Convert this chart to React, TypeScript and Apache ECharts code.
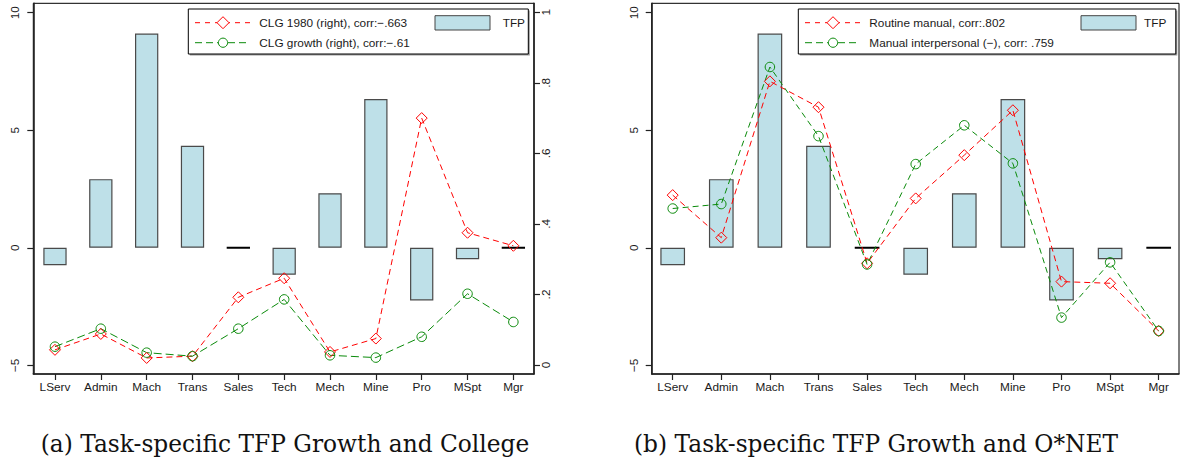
import React, { useEffect, useRef } from "react";
import * as echarts from "echarts";

const categories = ["LServ", "Admin", "Mach", "Trans", "Sales", "Tech", "Mech", "Mine", "Pro", "MSpt", "Mgr"];
const tfp = [-0.74, 2.92, 9.11, 4.34, 0, -1.15, 2.32, 6.33, -2.24, -0.49, 0];
const clg1980 = [0.043, 0.088, 0.02, 0.025, 0.192, 0.246, 0.037, 0.075, 0.7, 0.375, 0.338];
const clgGrowth = [0.052, 0.103, 0.035, 0.025, 0.103, 0.186, 0.0275, 0.021, 0.08, 0.202, 0.122];
const routineManual = [2.24, 0.43, 7.08, 5.98, -0.66, 2.1, 3.94, 5.85, -1.44, -1.51, -3.54];
const manualInterpersonal = [1.67, 1.86, 7.69, 4.75, -0.71, 3.56, 5.21, 3.59, -2.97, -0.62, -3.54];
const leftTicks = [-5, 0, 5, 10];
const rightTicks = [0, 0.2, 0.4, 0.6, 0.8, 1];

const SANS = "Liberation Sans";
const TXT = "#1a1a1a";
const AX = "#222";
const BAR = "#BEE0E8";
const RED = "#ff0000";
const GREEN = "#0a8a0a";
const FS = 11.8;

const idx = categories.map((_, i) => i);
const pairs = (arr: number[]) => arr.map((v, i) => [i, v]);
const barData = (arr: number[]) =>
  arr.map((v, i) => (v === 0 ? { value: [i, v], itemStyle: { borderColor: "#000", borderWidth: 1.8 } } : [i, v]));

function xAxisFor(gridIndex: number, min: number, max: number) {
  return {
    type: "value",
    gridIndex,
    min,
    max,
    axisLine: { show: true, onZero: false, lineStyle: { color: AX, width: 1.6 } },
    axisTick: { show: true, customValues: idx, length: 6, lineStyle: { color: AX, width: 1.2 } },
    axisLabel: {
      customValues: idx,
      formatter: (v: number) => categories[Math.round(v)] ?? "",
      fontSize: FS,
      fontFamily: SANS,
      color: TXT,
      margin: 7,
    },
    splitLine: { show: false },
  };
}

function leftY(gridIndex: number) {
  return {
    type: "value",
    gridIndex,
    position: "left",
    min: -5.37,
    max: 10.4,
    axisLine: { show: true, onZero: false, lineStyle: { color: AX, width: 1.6 } },
    axisTick: { show: true, customValues: leftTicks, length: 6, lineStyle: { color: AX, width: 1.2 } },
    axisLabel: {
      customValues: leftTicks,
      rotate: 90,
      formatter: (v: number) => (v < 0 ? "\u2212" + Math.abs(v) : String(v)),
      fontSize: FS,
      fontFamily: SANS,
      color: TXT,
      margin: 12,
    },
    splitLine: { show: false },
  };
}

function legend(
  x: number,
  w: number,
  lineX: number,
  textX: number,
  rectX: number,
  tfpX: number,
  label1: string,
  label2: string
) {
  const y = 9;
  const h = 45;
  const r1 = 22.7;
  const r2 = 42.7;
  const mx = lineX + 28;
  return [
    { type: "rect", shape: { x: x + 1.5, y: y + 1.5, width: w, height: h }, style: { fill: "#9a9a9a" }, silent: true },
    { type: "rect", shape: { x, y, width: w, height: h }, style: { fill: "#fff", stroke: "#000", lineWidth: 1 }, silent: true },
    { type: "line", shape: { x1: lineX, y1: r1, x2: lineX + 55, y2: r1 }, style: { stroke: RED, lineWidth: 1, lineDash: [5, 5] }, silent: true },
    {
      type: "polygon",
      shape: { points: [[mx, r1 - 6], [mx + 6, r1], [mx, r1 + 6], [mx - 6, r1]] },
      style: { fill: "#fff", stroke: RED, lineWidth: 1 },
      silent: true,
    },
    { type: "line", shape: { x1: lineX, y1: r2, x2: lineX + 55, y2: r2 }, style: { stroke: GREEN, lineWidth: 1, lineDash: [7, 4] }, silent: true },
    { type: "circle", shape: { cx: mx, cy: r2, r: 4.6 }, style: { fill: "#fff", stroke: GREEN, lineWidth: 1 }, silent: true },
    { type: "text", x: textX, y: r1, style: { text: label1, fontSize: FS, fontFamily: SANS, fill: TXT, textAlign: "left", textVerticalAlign: "middle" }, silent: true },
    { type: "text", x: textX, y: r2, style: { text: label2, fontSize: FS, fontFamily: SANS, fill: TXT, textAlign: "left", textVerticalAlign: "middle" }, silent: true },
    { type: "rect", shape: { x: rectX, y: 15.7, width: 55, height: 14.3 }, style: { fill: BAR, stroke: "#444", lineWidth: 1 }, silent: true },
    { type: "text", x: tfpX, y: r1, style: { text: "TFP", fontSize: FS, fontFamily: SANS, fill: TXT, textAlign: "left", textVerticalAlign: "middle" }, silent: true },
  ];
}

export default function App() {
  const ref = useRef<HTMLDivElement>(null);
  useEffect(() => {
    if (!ref.current) return;
    const chart = echarts.init(ref.current, undefined, { renderer: "svg" });
    const barStyle = { color: BAR, borderColor: "#4a4a4a", borderWidth: 1.2 };
    const option = {
      animation: false,
      backgroundColor: "#fff",
      grid: [
        { left: 33.3, top: 3.3, width: 500.7, height: 370.7, show: true, borderColor: "#000", borderWidth: 1, backgroundColor: "transparent" },
        { left: 651.7, top: 3.3, width: 527.3, height: 370.7, show: true, borderColor: "#000", borderWidth: 1, backgroundColor: "transparent" },
      ],
      xAxis: [xAxisFor(0, -0.473, 10.45), xAxisFor(1, -0.432, 10.418)],
      yAxis: [
        leftY(0),
        {
          type: "value",
          gridIndex: 0,
          position: "right",
          min: -0.0255,
          max: 1.0255,
          axisLine: { show: true, onZero: false, lineStyle: { color: AX, width: 1.6 } },
          axisTick: { show: true, customValues: rightTicks, length: 6, lineStyle: { color: AX, width: 1.2 } },
          axisLabel: {
            customValues: rightTicks,
            rotate: 90,
            formatter: (v: number) => (v === 0 ? "0" : v === 1 ? "1" : String(Math.round(v * 10) / 10).replace(/^0/, "")),
            fontSize: FS,
            fontFamily: SANS,
            color: TXT,
            margin: 6,
          },
          splitLine: { show: false },
        },
        leftY(1),
      ],
      series: [
        { type: "bar", name: "TFP", xAxisIndex: 0, yAxisIndex: 0, data: barData(tfp), barWidth: 23.3, itemStyle: barStyle, silent: true },
        {
          type: "line",
          name: "CLG 1980",
          xAxisIndex: 0,
          yAxisIndex: 1,
          data: pairs(clg1980),
          symbol: "diamond",
          symbolSize: 11,
          itemStyle: { color: "rgba(255,255,255,0)", borderColor: RED, borderWidth: 1 },
          lineStyle: { color: RED, width: 1, type: [6, 4] },
          silent: true,
        },
        {
          type: "line",
          name: "CLG growth",
          xAxisIndex: 0,
          yAxisIndex: 1,
          data: pairs(clgGrowth),
          symbol: "circle",
          symbolSize: 9.5,
          itemStyle: { color: "rgba(255,255,255,0)", borderColor: GREEN, borderWidth: 1 },
          lineStyle: { color: GREEN, width: 1, type: [8, 4] },
          silent: true,
        },
        { type: "bar", name: "TFP b", xAxisIndex: 1, yAxisIndex: 2, data: barData(tfp), barWidth: 24.7, itemStyle: barStyle, silent: true },
        {
          type: "line",
          name: "Routine manual",
          xAxisIndex: 1,
          yAxisIndex: 2,
          data: pairs(routineManual),
          symbol: "diamond",
          symbolSize: 11,
          itemStyle: { color: "rgba(255,255,255,0)", borderColor: RED, borderWidth: 1 },
          lineStyle: { color: RED, width: 1, type: [6, 4] },
          silent: true,
        },
        {
          type: "line",
          name: "Manual interpersonal",
          xAxisIndex: 1,
          yAxisIndex: 2,
          data: pairs(manualInterpersonal),
          symbol: "circle",
          symbolSize: 9.5,
          itemStyle: { color: "rgba(255,255,255,0)", borderColor: GREEN, borderWidth: 1 },
          lineStyle: { color: GREEN, width: 1, type: [6, 4] },
          silent: true,
        },
      ],
      graphic: [
        ...legend(188.3, 340, 195, 259.3, 435, 502.7, "CLG 1980 (right), corr:\u2212.663", "CLG growth (right), corr:\u2212.61"),
        ...legend(798.3, 377.5, 805, 869.3, 1081, 1144, "Routine manual, corr:.802", "Manual interpersonal (\u2212), corr: .759"),
        {
          type: "text",
          x: 285,
          y: 443,
          style: { text: "(a) Task-specific TFP Growth and College", fontSize: 23.3, fontFamily: "DejaVu Serif", fill: "#111", textAlign: "center", textVerticalAlign: "middle" },
          silent: true,
        },
        {
          type: "text",
          x: 876,
          y: 443,
          style: { text: "(b) Task-specific TFP Growth and O*NET", fontSize: 23.3, fontFamily: "DejaVu Serif", fill: "#111", textAlign: "center", textVerticalAlign: "middle" },
          silent: true,
        },
      ],
    };
    chart.setOption(option as any);
    return () => chart.dispose();
  }, []);
  return <div ref={ref} style={{ position: "fixed", left: 0, top: 0, width: 1180, height: 465, background: "#fff" }} />;
}
